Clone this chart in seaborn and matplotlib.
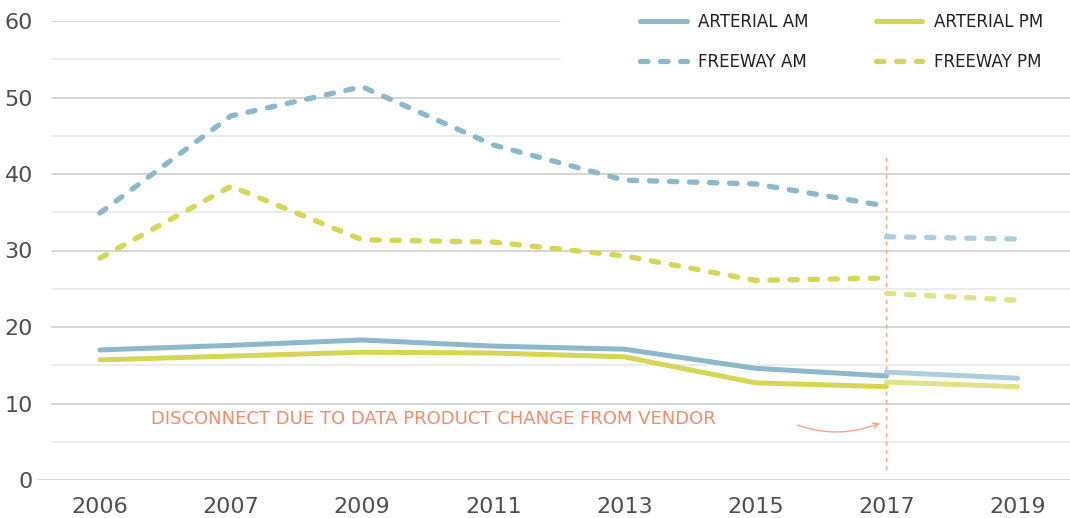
import seaborn as sns
import matplotlib.pyplot as plt
from matplotlib.lines import Line2D
import pandas as pd

# data
years = ["2006", "2007", "2009", "2011", "2013", "2015", "2017", "2019"]
old_years = years[:7]
new_years = ["2017", "2019"]

arterial_am = [17.0, 17.6, 18.3, 17.5, 17.1, 14.6, 13.6]
arterial_pm = [15.7, 16.2, 16.7, 16.6, 16.1, 12.7, 12.2]
freeway_am = [34.9, 47.6, 51.4, 43.8, 39.2, 38.7, 35.8]
freeway_pm = [29.0, 38.4, 31.4, 31.1, 29.3, 26.1, 26.4]

# after the vendor change
arterial_am_new = [14.1, 13.3]
arterial_pm_new = [12.8, 12.2]
freeway_am_new = [31.8, 31.5]
freeway_pm_new = [24.4, 23.5]

labels = ["ARTERIAL AM", "FREEWAY AM", "ARTERIAL PM", "FREEWAY PM"]

sns.set_style("white")
plt.rcParams["font.family"] = ["DejaVu Sans"]

blue = "#8DB8CA"
yellow = "#D4D655"
blue_light = "#AECDDA"
yellow_light = "#E0E28A"
coral = "#F48C6C"

fig = plt.figure(figsize=(10.7, 5.18), dpi=100)
ax = fig.add_axes([37 / 1070, 38 / 518, 1033 / 1070, 459 / 518])

pos = {y: i for i, y in enumerate(years)}
x_old = [pos[y] for y in old_years]
x_new = [pos[y] for y in new_years]

solid = dict(linewidth=3.6, solid_capstyle="round", errorbar=None)
dash = dict(linewidth=3.8, linestyle=(0, (1.4, 2.4)), dash_capstyle="round", errorbar=None)

sns.lineplot(x=x_old, y=freeway_am, color=blue, ax=ax, **dash)
sns.lineplot(x=x_old, y=freeway_pm, color=yellow, ax=ax, **dash)
sns.lineplot(x=x_old, y=arterial_am, color=blue, ax=ax, **solid)
sns.lineplot(x=x_old, y=arterial_pm, color=yellow, ax=ax, **solid)

sns.lineplot(x=x_new, y=freeway_am_new, color=blue_light, ax=ax, **dash)
sns.lineplot(x=x_new, y=freeway_pm_new, color=yellow_light, ax=ax, **dash)
sns.lineplot(x=x_new, y=arterial_am_new, color=blue_light, ax=ax, **solid)
sns.lineplot(x=x_new, y=arterial_pm_new, color=yellow_light, ax=ax, **solid)

# gridlines
for v in range(0, 65, 5):
    c = "#d3d3d3" if v % 10 == 0 else "#ebebeb"
    xmin = 0 if v == 0 else 0.0145
    xmax = 0.506 if v >= 55 else 1
    ax.axhline(v, xmin=xmin, xmax=xmax, color=c, lw=1.3, zorder=0)

ax.set_xlim(-0.48, 7.40)
ax.set_ylim(0, 60)
ax.set_xticks(range(len(years)))
ax.set_xticklabels(years)
ax.set_yticks(range(0, 61, 10))
ax.tick_params(axis="both", length=0, labelsize=16, colors="#4f4f4f")
ax.tick_params(axis="x", pad=12)
ax.tick_params(axis="y", pad=3)
for s in ax.spines.values():
    s.set_visible(False)
ax.set_xlabel("")
ax.set_ylabel("")

# vendor change marker
ax.vlines(pos["2017"], 1.3, 42.5, colors="#F7A38C", linestyles=(0, (3, 3)), lw=1, zorder=1)
ax.text(0.39, 8.0, "DISCONNECT DUE TO DATA PRODUCT CHANGE FROM VENDOR",
        color=coral, fontsize=13, va="center", ha="left")
ax.annotate("", xy=(pos["2017"] - 0.03, 7.6), xytext=(5.30, 7.3),
            arrowprops=dict(arrowstyle="->", color="#F7A38C", lw=1,
                            connectionstyle="arc3,rad=0.2"))

handles = [
    Line2D([], [], color=blue, lw=3.6, solid_capstyle="round"),
    Line2D([], [], color=blue, lw=3.8, linestyle=(0, (1.4, 2.4)), dash_capstyle="round"),
    Line2D([], [], color=yellow, lw=3.6, solid_capstyle="round"),
    Line2D([], [], color=yellow, lw=3.8, linestyle=(0, (1.4, 2.4)), dash_capstyle="round"),
]
leg = fig.legend(handles, labels, ncol=2, loc="upper left",
                 bbox_to_anchor=(640 / 1070, 1 - 13 / 518), frameon=False,
                 fontsize=12, handlelength=2.8, handletextpad=0.7,
                 columnspacing=4.0, labelspacing=1.3, borderpad=0,
                 borderaxespad=0)
for t in leg.get_texts():
    t.set_color("#222222")

fig.savefig("out.png", dpi=100)
